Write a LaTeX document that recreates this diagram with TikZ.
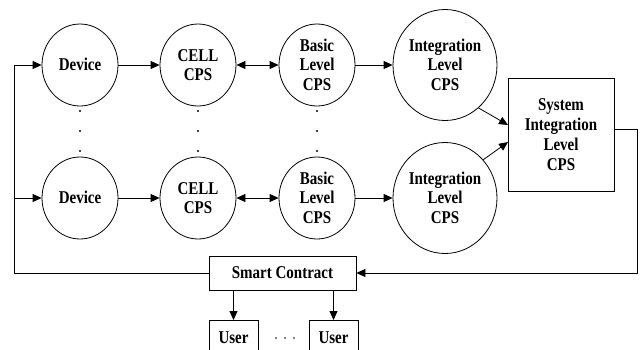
\documentclass[tikz,border=0pt]{standalone}
\usepackage{fontspec}
\usepackage{graphicx}
\setmainfont{Liberation Serif}
\usetikzlibrary{shapes.geometric,arrows.meta}
\newcommand\tx[1]{\scalebox{1}[1.2]{\begin{tabular}{@{}c@{}}#1\end{tabular}}}
\begin{document}
\begin{tikzpicture}[x=1pt,y=-1pt,
  line width=0.8pt,
  lbl/.style={font=\fontsize{15}{16.6}\selectfont\bfseries, align=center, yshift=-2pt},
  sm/.style={ellipse, draw, minimum width=76pt, minimum height=82pt, inner sep=0pt},
  big/.style={ellipse, draw, minimum width=104pt, minimum height=111pt, inner sep=0pt},
  box/.style={draw, inner sep=0pt},
  tip/.tip={Triangle[length=9pt,width=8pt]},
  arr/.style={-tip},
  darr/.style={tip-tip},
  dot/.style={circle, fill, inner sep=0pt, minimum size=2.2pt}]
\useasboundingbox (0,0) rectangle (640,349);
\clip (0,0) rectangle (640,349);
% row 1
\node[sm, label={[lbl]center:\tx{Device}}] (d1) at (80,65) {};
\node[sm, label={[lbl]center:\tx{CELL\\CPS}}] (c1) at (198,65) {};
\node[sm, label={[lbl]center:\tx{Basic\\Level\\CPS}}] (b1) at (317,65) {};
\node[big, label={[lbl]center:\tx{Integration\\Level\\CPS}}] (i1) at (445,65) {};
% row 2
\node[sm, label={[lbl]center:\tx{Device}}] (d2) at (80,198) {};
\node[sm, label={[lbl]center:\tx{CELL\\CPS}}] (c2) at (198,198) {};
\node[sm, label={[lbl]center:\tx{Basic\\Level\\CPS}}] (b2) at (317,198) {};
\node[big, label={[lbl]center:\tx{Integration\\Level\\CPS}}] (i2) at (445,198) {};
% system box
\node[box, minimum width=106pt, minimum height=113pt, label={[lbl]center:\tx{System\\Integration\\Level\\CPS}}] (sys) at (561,134.5) {};
% smart contract and users
\node[box, minimum width=147pt, minimum height=34pt, label={[lbl]center:\tx{Smart Contract}}] (sc) at (282.5,273) {};
\node[box, minimum width=49pt, minimum height=34pt, anchor=north, label={[lbl]center:\tx{User}}] (u1) at (233.5,320) {};
\node[box, minimum width=49pt, minimum height=34pt, anchor=north, label={[lbl]center:\tx{User}}] (u2) at (333.5,320) {};
% dots
\foreach \x in {80,198,317}{
  \foreach \y in {111,131,151}{
    \node[dot] at (\x,\y) {};
  }
}
\foreach \x in {276,285,294}{\node[dot, minimum size=1.8pt] at (\x,338) {};}
% connectors
\draw[arr] (d1.east) -- (c1.west);
\draw[darr] (c1.east) -- (b1.west);
\draw[arr] (b1.east) -- (i1.west);
\draw[arr] (d2.east) -- (c2.west);
\draw[darr] (c2.east) -- (b2.west);
\draw[arr] (b2.east) -- (i2.west);
\coordinate (s1) at (508,125);
\coordinate (s2) at (508,142);
\draw[arr] (i1.-52) -- (s1);
\draw[arr] (i2.45) -- (s2);
\coordinate (L1) at (14,65);
\coordinate (L2) at (14,198);
\coordinate (L3) at (14,273);
\draw[arr] (sc.west) -- (L3) -- (L1) -- (d1.west);
\draw[arr] (L2) -- (d2.west);
\coordinate (R1) at (637,129);
\coordinate (R2) at (637,273);
\draw[arr] (sys.east |- R1) -- (R1) -- (R2) -- (sc.east);
\draw[arr] (sc.south -| u1) -- (u1.north);
\draw[arr] (sc.south -| u2) -- (u2.north);
\end{tikzpicture}
\end{document}
